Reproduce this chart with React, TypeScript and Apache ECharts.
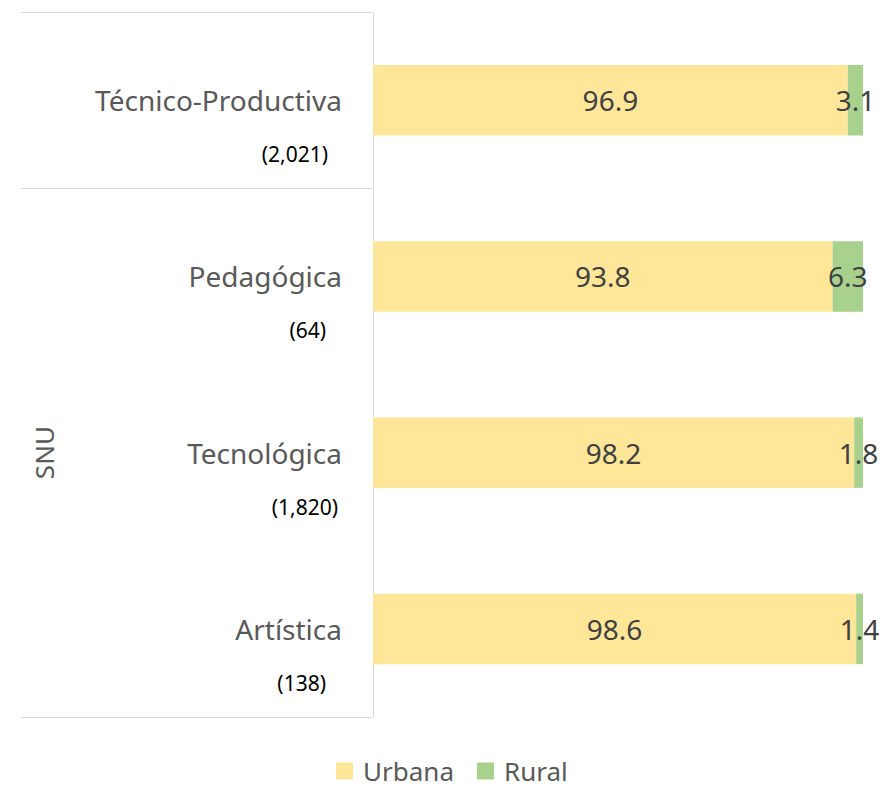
import React, { useEffect, useRef } from "react";
import * as echarts from "echarts";

const categories = ["Técnico-Productiva", "Pedagógica", "Tecnológica", "Artística"];
const counts = ["(2,021)", "(64)", "(1,820)", "(138)"];
const urbana = [96.9, 93.8, 98.2, 98.6];
const rural = [3.1, 6.3, 1.8, 1.4];
const groupLabel = "SNU";
const groupStart = 1; // first category of the SNU group
const seriesNames = ["Urbana", "Rural"];

// layout only (right edge of each count label, px)
const countRight = [328, 326, 338, 326];

const FONT = "'Noto Sans', 'DejaVu Sans', sans-serif";

export default function App() {
  const ref = useRef<HTMLDivElement>(null);
  useEffect(() => {
    if (!ref.current) return;
    const chart = echarts.init(ref.current, null, { renderer: "svg" });
    const gridTop = 12;
    const gridBottom = 72;
    chart.setOption({
      animation: false,
      textStyle: { fontFamily: FONT },
      grid: { left: 373, right: 19, top: gridTop, bottom: gridBottom, containLabel: false },
      xAxis: { type: "value", min: 0, max: 100, show: false },
      yAxis: {
        type: "category",
        data: categories,
        inverse: true,
        axisLine: { show: true, lineStyle: { color: "#D9D9D9", width: 1 } },
        axisTick: { show: false },
        axisLabel: { fontSize: 28, color: "#595959", margin: 31, fontFamily: FONT },
        splitLine: { show: false },
      },
      legend: {
        data: seriesNames,
        left: 336,
        top: 758,
        padding: 0,
        itemWidth: 17,
        itemHeight: 17,
        itemGap: 23,
        icon: "rect",
        textStyle: { fontSize: 26, color: "#595959", fontFamily: FONT, padding: [0, 0, 0, 5] },
      },
      series: [
        {
          name: seriesNames[0],
          type: "bar",
          stack: "t",
          data: urbana,
          barWidth: "40%",
          itemStyle: { color: "#FFE699" },
          label: { show: true, position: "inside", fontSize: 28, color: "#404040", fontFamily: FONT },
        },
        {
          name: seriesNames[1],
          type: "bar",
          stack: "t",
          data: rural,
          barWidth: "40%",
          itemStyle: { color: "#A9D18E" },
          label: { show: true, position: "inside", fontSize: 28, color: "#404040", fontFamily: FONT },
        },
      ],
    });

    const ys = categories.map((c) => chart.convertToPixel({ yAxisIndex: 0 }, c) as number);
    const band = ys.length > 1 ? ys[1] - ys[0] : 100;
    const axisX = 372;
    const lineLeft = 21;
    const lineStyle = { stroke: "#D9D9D9", lineWidth: 1 };
    const bounds = [ys[0] - band / 2, ys[groupStart] - band / 2, ys[ys.length - 1] + band / 2];
    const graphics: any[] = [];
    bounds.forEach((y) => {
      const yy = Math.round(y) + 0.5;
      graphics.push({ type: "line", shape: { x1: lineLeft, y1: yy, x2: axisX, y2: yy }, style: lineStyle, silent: true });
    });
    counts.forEach((t, i) => {
      graphics.push({
        type: "text",
        x: countRight[i],
        y: ys[i] + 54,
        style: { text: t, fontSize: 21, fill: "#000000", fontFamily: FONT, align: "right", verticalAlign: "middle" },
        silent: true,
      });
    });
    const groupCenter = (ys[groupStart] - band / 2 + ys[ys.length - 1] + band / 2) / 2;
    graphics.push({
      type: "text",
      x: 44,
      y: groupCenter,
      rotation: Math.PI / 2,
      style: { text: groupLabel, fontSize: 26, fill: "#595959", fontFamily: FONT, align: "center", verticalAlign: "middle" },
      silent: true,
    });
    chart.setOption({ graphic: graphics });

    return () => chart.dispose();
  }, []);
  return (
    <div
      ref={ref}
      style={{ position: "fixed", left: 0, top: 0, width: 882, height: 789, background: "#ffffff" }}
    />
  );
}
